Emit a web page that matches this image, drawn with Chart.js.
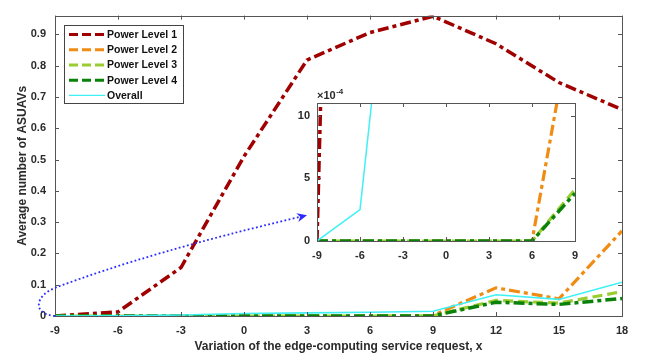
<!DOCTYPE html>
<html lang="en">
<head>
<meta charset="UTF-8">
<title>Average number of ASUAVs</title>
<style>
    body { margin: 0; background: #fff; }
    #wrap { position: relative; width: 645px; height: 358px; }
    #mainChart { position: absolute; left: 0; top: 0; }
    #insetChart { position: absolute; left: 290px; top: 80px; }
</style>
</head>
<body>
<div id="wrap">
    <canvas id="mainChart" width="645" height="358"></canvas>
    <canvas id="insetChart" width="300" height="190"></canvas>
</div>
<script src="https://cdn.jsdelivr.net/npm/chart.js"></script>
<script>
// data
const xValues = [-9, -6, -3, 0, 3, 6, 9, 12, 15, 18];
const level1 = [0, 0.013, 0.155, 0.51, 0.818, 0.906, 0.958, 0.87, 0.746, 0.66];
const level2 = [0, 0, 0, 0, 0, 0, 0.0019, 0.09, 0.055, 0.272];
const level3 = [0, 0, 0, 0, 0, 0, 0.00041, 0.05, 0.041, 0.078];
const level4 = [0, 0, 0, 0, 0, 0, 0.00038, 0.044, 0.037, 0.056];
const overall = [0, 0.00025, 0.0034, 0.008, 0.01, 0.012, 0.015, 0.068, 0.053, 0.108];
const seriesNames = ['Power Level 1', 'Power Level 2', 'Power Level 3', 'Power Level 4', 'Overall'];
const xTicks = [-9, -6, -3, 0, 3, 6, 9, 12, 15, 18];
const insetXTicks = [-9, -6, -3, 0, 3, 6, 9];

const FONT = 'Liberation Sans';
const TEXT = '#2b2b2b';
const AXIS = '#555';

Chart.defaults.font.family = FONT;
Chart.defaults.font.weight = 'bold';
Chart.defaults.font.size = 11;
Chart.defaults.color = TEXT;

function pts(ys) {
    return xValues.map(function (x, i) { return { x: x, y: ys[i] }; });
}

function makeDatasets(thin) {
    return [
        { label: seriesNames[0], data: pts(level1), borderColor: '#a00000', borderWidth: 3.5, borderDash: [11, 4, 4, 4], order: 4 },
        { label: seriesNames[1], data: pts(level2), borderColor: '#f08c14', borderWidth: 3.2, borderDash: [11, 4, 4, 4], order: 3 },
        { label: seriesNames[2], data: pts(level3), borderColor: '#9acd32', borderWidth: 3.2, borderDash: [10, 5], order: 2 },
        { label: seriesNames[3], data: pts(level4), borderColor: '#0a820a', borderWidth: 3.5, borderDash: [11, 4, 4, 4], order: 1 },
        { label: seriesNames[4], data: pts(overall), borderColor: '#3ff0f5', borderWidth: thin, order: 0 }
    ].map(function (d) {
        d.pointRadius = 0;
        d.tension = 0;
        d.fill = false;
        return d;
    });
}

// box round the axes, with ticks pointing inwards on every side
const framePlugin = {
    id: 'frame',
    afterDatasetsDraw(chart) {
        const ca = chart.chartArea;
        const ctx = chart.ctx;
        const xs = chart.scales.x, ys = chart.scales.y;
        ctx.save();
        ctx.strokeStyle = AXIS;
        ctx.lineWidth = 1;
        ctx.setLineDash([]);
        ctx.beginPath();
        xs.ticks.forEach(function (t) {
            const p = Math.round(xs.getPixelForValue(t.value)) + 0.5;
            ctx.moveTo(p, ca.bottom); ctx.lineTo(p, ca.bottom - 4);
            ctx.moveTo(p, ca.top); ctx.lineTo(p, ca.top + 4);
        });
        ys.ticks.forEach(function (t) {
            const p = Math.round(ys.getPixelForValue(t.value)) + 0.5;
            ctx.moveTo(ca.left, p); ctx.lineTo(ca.left + 4, p);
            ctx.moveTo(ca.right, p); ctx.lineTo(ca.right - 4, p);
        });
        ctx.stroke();
        ctx.strokeRect(Math.round(ca.left) + 0.5, Math.round(ca.top) + 0.5,
            Math.round(ca.right - ca.left), Math.round(ca.bottom - ca.top));
        ctx.restore();
    }
};

// legend box in the upper left corner and the blue pointer to the zoomed view
const mainExtras = {
    id: 'mainExtras',
    afterDraw(chart) {
        const ctx = chart.ctx;
        const ca = chart.chartArea;
        const xs = chart.scales.x, ys = chart.scales.y;
        const P = function (x, y) { return [xs.getPixelForValue(x), ys.getPixelForValue(y)]; };

        // dotted arrow
        const a0 = P(-9, 0), c1 = P(-10.1, 0.006), c2 = P(-9.95, 0.065), a1 = P(-9, 0.09);
        const q = P(-4.48, 0.204), tip = P(3.0, 0.322);
        ctx.save();
        ctx.strokeStyle = '#2b2bff';
        ctx.fillStyle = '#2b2bff';
        ctx.lineWidth = 1.8;
        ctx.setLineDash([1.8, 2.4]);
        ctx.beginPath();
        ctx.moveTo(a0[0], a0[1]);
        ctx.bezierCurveTo(c1[0], c1[1], c2[0], c2[1], a1[0], a1[1]);
        const dx = tip[0] - q[0], dy = tip[1] - q[1];
        const len = Math.sqrt(dx * dx + dy * dy);
        const ux = dx / len, uy = dy / len;
        const back = [tip[0] - ux * 8, tip[1] - uy * 8];
        ctx.quadraticCurveTo(q[0], q[1], back[0], back[1]);
        ctx.stroke();
        ctx.setLineDash([]);
        ctx.beginPath();
        ctx.moveTo(tip[0], tip[1]);
        ctx.lineTo(tip[0] - ux * 10 - uy * 4.5, tip[1] - uy * 10 + ux * 4.5);
        ctx.lineTo(tip[0] - ux * 7, tip[1] - uy * 7);
        ctx.lineTo(tip[0] - ux * 10 + uy * 4.5, tip[1] - uy * 10 - ux * 4.5);
        ctx.closePath();
        ctx.fill();
        ctx.restore();

        // legend
        const lx = ca.left + 9, ly = ca.top + 9, lw = 119, lh = 78;
        ctx.save();
        ctx.fillStyle = '#fff';
        ctx.fillRect(lx, ly, lw, lh);
        ctx.strokeStyle = '#444';
        ctx.lineWidth = 1;
        ctx.strokeRect(Math.round(lx) + 0.5, Math.round(ly) + 0.5, lw, lh);
        ctx.font = 'bold 10.5px ' + FONT;
        ctx.textBaseline = 'middle';
        chart.data.datasets.forEach(function (d, i) {
            const y = ly + 10 + i * 15.2;
            ctx.strokeStyle = d.borderColor;
            ctx.lineWidth = d.borderDash ? 3 : 1.2;
            ctx.setLineDash(d.borderDash ? [9, 4] : []);
            ctx.beginPath();
            ctx.moveTo(lx + 5, y);
            ctx.lineTo(lx + 41, y);
            ctx.stroke();
            ctx.fillStyle = '#111';
            ctx.fillText(d.label, lx + 43, y + 0.5);
        });
        ctx.restore();
    }
};

const mainChart = new Chart(document.getElementById('mainChart'), {
    type: 'line',
    data: { datasets: makeDatasets(1.6) },
    options: {
        responsive: false,
        animation: false,
        layout: { padding: { left: 0, top: 6, right: 23, bottom: 0 } },
        plugins: { legend: { display: false }, tooltip: { enabled: false } },
        scales: {
            x: {
                type: 'linear', min: -9, max: 18,
                afterBuildTicks: function (s) { s.ticks = xTicks.map(function (v) { return { value: v }; }); },
                afterFit: function (s) { s.height = 42; },
                grid: { display: false, drawTicks: false },
                border: { display: false },
                ticks: { padding: 8, font: { size: 11, weight: 'bold' }, color: TEXT },
                title: {
                    display: true, text: 'Variation of the edge-computing service request, x',
                    font: { size: 12, weight: 'bold' }, color: TEXT, padding: { top: 0, bottom: 4 }
                }
            },
            y: {
                type: 'linear', min: 0, max: 0.96,
                afterFit: function (s) { s.width = 55; },
                grid: { display: false, drawTicks: false },
                border: { display: false },
                ticks: { stepSize: 0.1, includeBounds: false, padding: 9, font: { size: 11, weight: 'bold' }, color: TEXT },
                title: {
                    display: true, text: 'Average number of ASUAVs',
                    font: { size: 12, weight: 'bold' }, color: TEXT, padding: { top: 15, bottom: 0 }
                }
            }
        }
    },
    plugins: [framePlugin, mainExtras]
});

// zoomed view of the region near zero
const insetExtras = {
    id: 'insetExtras',
    beforeDatasetsDraw(chart) {
        const ca = chart.chartArea;
        chart.ctx.save();
        chart.ctx.fillStyle = '#fff';
        chart.ctx.fillRect(ca.left, ca.top, ca.right - ca.left, ca.bottom - ca.top);
        chart.ctx.restore();
    },
    afterDraw(chart) {
        const ca = chart.chartArea;
        const ctx = chart.ctx;
        ctx.save();
        ctx.fillStyle = TEXT;
        ctx.textBaseline = 'alphabetic';
        ctx.font = 'bold 11px ' + FONT;
        ctx.fillText('\u00d710', ca.left, ca.top - 4);
        const w = ctx.measureText('\u00d710').width;
        ctx.font = 'bold 8px ' + FONT;
        ctx.fillText('-4', ca.left + w + 0.5, ca.top - 9);
        ctx.restore();
    }
};

const insetChart = new Chart(document.getElementById('insetChart'), {
    type: 'line',
    data: { datasets: makeDatasets(1.5) },
    options: {
        responsive: false,
        animation: false,
        layout: { padding: { left: 0, top: 23, right: 15, bottom: 0 } },
        plugins: { legend: { display: false }, tooltip: { enabled: false } },
        scales: {
            x: {
                type: 'linear', min: -9, max: 9,
                afterBuildTicks: function (s) { s.ticks = insetXTicks.map(function (v) { return { value: v }; }); },
                afterFit: function (s) { s.height = 29; },
                grid: { display: false, drawTicks: false },
                border: { display: false },
                ticks: { padding: 8, font: { size: 11, weight: 'bold' }, color: TEXT }
            },
            y: {
                type: 'linear', min: 0, max: 0.0011,
                afterFit: function (s) { s.width = 27; },
                grid: { display: false, drawTicks: false },
                border: { display: false },
                ticks: {
                    stepSize: 0.0005, includeBounds: false, padding: 7,
                    font: { size: 11, weight: 'bold' }, color: TEXT,
                    callback: function (v) { return Math.round(v * 1e4); }
                }
            }
        }
    },
    plugins: [insetExtras, framePlugin]
});
</script>
</body>
</html>
